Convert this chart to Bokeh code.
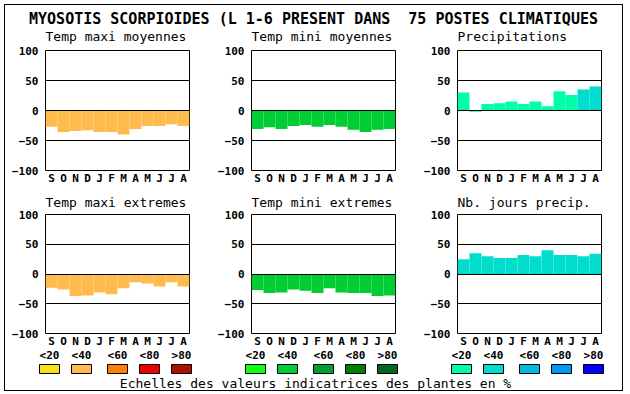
from bokeh.plotting import figure
from bokeh.layouts import column, row
from bokeh.models import Range1d, FixedTicker, ColumnDataSource
from bokeh.embed import file_html
from bokeh.resources import INLINE
from bokeh.core.properties import value

# ---------------- data ----------------
MAIN_TITLE = "MYOSOTIS SCORPIOIDES (L 1-6 PRESENT DANS \u00a075 POSTES CLIMATIQUES"
MONTHS = ["S", "O", "N", "D", "J", "F", "M", "A", "M", "J", "J", "A"]
Y_TICKS = [-100, -50, 0, 50, 100]

ROW1_TITLES = ["Temp maxi moyennes", "Temp mini moyennes", "Precipitations"]
ROW2_TITLES = ["Temp maxi extremes", "Temp mini extremes", "Nb. jours precip."]

temp_maxi_moy = [-27, -36, -34, -33, -36, -36, -40, -31, -26, -26, -23, -26]
temp_mini_moy = [-31, -28, -31, -26, -24, -27, -24, -27, -32, -36, -32, -31]
precip = [30, -2, 11, 12, 15, 11, 15, 7, 32, 26, 35, 40]
temp_maxi_ext = [-23, -26, -37, -36, -31, -34, -24, -14, -16, -21, -14, -21]
temp_mini_ext = [-27, -32, -31, -26, -28, -32, -24, -31, -32, -32, -37, -36]
nb_jours = [25, 35, 30, 27, 27, 32, 30, 40, 32, 32, 30, 34]

ORANGES = ["#F7E11B", "#FFBB4D", "#FF7F00", "#EE0000", "#AA1100"]
GREENS = ["#11FF11", "#00CC33", "#00A030", "#008000", "#006622"]
BLUES = ["#00FFAA", "#00DDCC", "#00BBDD", "#0099EE", "#0000FF"]
LEGEND_LABELS = ["<20", "<40", "<60", "<80", ">80"]
SCALE_TEXT = "Echelles des valeurs indicatrices des plantes en %"

precip_colors = [BLUES[0]] * 10 + [BLUES[1]] * 2

MONO = "DejaVu Sans Mono"
FULL_W = 617
WIDTHS = [206, 206, 205]
LEFT_B = 40
FRAME_W = 144


def blank(width, height):
    p = figure(width=width, height=height, x_range=Range1d(0, width),
               y_range=Range1d(height, 0), output_backend="svg",
               toolbar_location=None, min_border=0)
    p.axis.visible = False
    p.grid.visible = False
    p.outline_line_color = None
    p.background_fill_color = "white"
    p.border_fill_color = "white"
    return p


def panel(vals, colors, width, height, top, bottom):
    p = figure(width=width, height=height,
               x_range=Range1d(0.5, 12.5), y_range=Range1d(-100, 100),
               output_backend="svg", toolbar_location=None,
               min_border_left=LEFT_B, min_border_right=width - LEFT_B - FRAME_W,
               min_border_top=top, min_border_bottom=bottom)
    p.title.visible = False
    xs = list(range(1, 13))
    src = ColumnDataSource(dict(x=xs, top=vals, color=colors))
    p.vbar(x="x", top="top", bottom=0, width=1, source=src,
           fill_color="color", line_color=None)
    p.outline_line_color = "black"
    p.outline_line_alpha = 1
    p.outline_line_width = 1
    p.xgrid.visible = False
    p.ygrid.ticker = FixedTicker(ticks=[-50, 0, 50])
    p.ygrid.grid_line_color = "black"
    p.ygrid.grid_line_alpha = 1
    p.ygrid.grid_line_width = 1
    p.ygrid.level = "overlay"
    p.yaxis.ticker = FixedTicker(ticks=Y_TICKS)
    p.xaxis.ticker = FixedTicker(ticks=xs)
    p.xaxis.major_label_overrides = {x: m for x, m in zip(xs, MONTHS)}
    for ax in (p.xaxis[0], p.yaxis[0]):
        ax.axis_line_color = None
        ax.major_tick_line_color = None
        ax.minor_tick_line_color = None
        ax.major_tick_out = 0
        ax.major_tick_in = 0
        ax.major_label_text_font = MONO
        ax.major_label_text_font_style = "bold"
        ax.major_label_text_font_size = "11px"
        ax.major_label_text_color = "black"
    p.yaxis.major_label_standoff = 7
    p.xaxis.major_label_standoff = 1
    p.background_fill_color = "white"
    p.border_fill_color = "white"
    return p


def subtitles(p, titles, y):
    xs, acc = [], 0
    for w in WIDTHS:
        xs.append(acc + LEFT_B)
        acc += w
    p.text(x=xs, y=[y] * 3, text=titles, text_align="left",
           text_baseline="middle", text_font=value(MONO),
           text_font_style="normal", text_font_size="13px", text_color="black")


# header of row 1 (main title + subtitles)
head1 = blank(FULL_W, 41)
head1.text(x=[308], y=[13], text=[MAIN_TITLE], text_align="center",
           text_baseline="middle", text_font=value(MONO),
           text_font_style="bold", text_font_size="15px", text_color="black")
subtitles(head1, ROW1_TITLES, 31)

row1 = row(
    panel(temp_maxi_moy, [ORANGES[1]] * 12, WIDTHS[0], 142, 4, 18),
    panel(temp_mini_moy, [GREENS[1]] * 12, WIDTHS[1], 142, 4, 18),
    panel(precip, precip_colors, WIDTHS[2], 142, 4, 18),
)

head2 = blank(FULL_W, 22)
subtitles(head2, ROW2_TITLES, 14)

row2 = row(
    panel(temp_maxi_ext, [ORANGES[1]] * 12, WIDTHS[0], 140, 4, 16),
    panel(temp_mini_ext, [GREENS[1]] * 12, WIDTHS[1], 140, 4, 16),
    panel(nb_jours, [BLUES[1]] * 12, WIDTHS[2], 140, 4, 16),
)

# legend
lfig = blank(FULL_W, 40)
group_starts = [34, 240, 446]
offsets = [0, 32, 68, 100, 132]
lefts, rights, fills, lx, lt = [], [], [], [], []
for g, palette in zip(group_starts, [ORANGES, GREENS, BLUES]):
    for off, col, lab in zip(offsets, palette, LEGEND_LABELS):
        lefts.append(g + off)
        rights.append(g + off + 20)
        fills.append(col)
        lx.append(g + off + 10)
        lt.append(lab)
lfig.quad(left=lefts, right=rights, top=[14] * 15, bottom=[23] * 15,
          fill_color=fills, line_color="black", line_width=1)
lfig.text(x=lx, y=[5] * 15, text=lt, text_align="center", text_baseline="middle",
          text_font=value(MONO), text_font_style="bold", text_font_size="11px",
          text_color="black")
lfig.text(x=[310], y=[33], text=[SCALE_TEXT], text_align="center",
          text_baseline="middle", text_font=value(MONO),
          text_font_style="normal", text_font_size="13px", text_color="black")

layout = column(head1, row1, head2, row2, lfig, margin=(4, 0, 0, 4),
                styles={"border": "1px solid black"})

open("out.html", "w").write(file_html(layout, INLINE))
